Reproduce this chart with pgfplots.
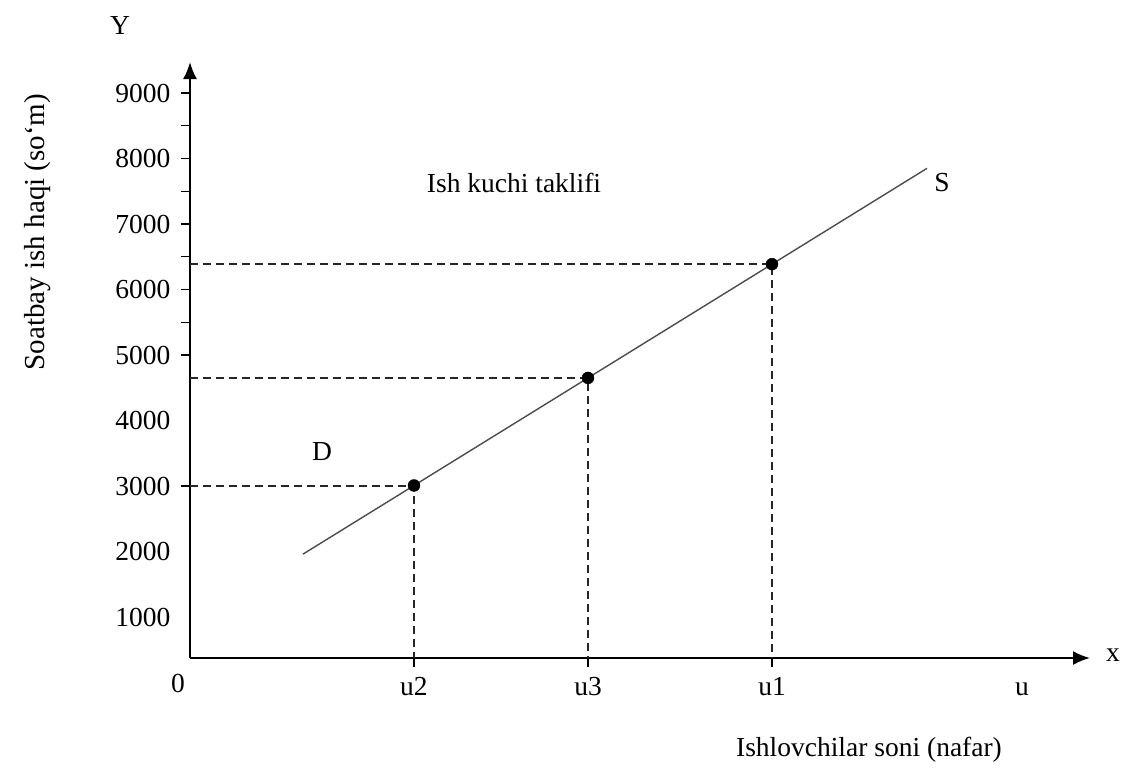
\documentclass[border=0pt]{standalone}
\usepackage{pgfplots}
\pgfplotsset{compat=1.18}
\usepackage{fontspec}
\setmainfont{Liberation Serif}
\usetikzlibrary{arrows.meta}
\begin{document}
\begin{tikzpicture}[font=\fontsize{27.5}{33}\selectfont]
\begin{axis}[
  x=1pt, y=0.0655pt,
  xmin=0, xmax=900, ymin=374, ymax=9473,
  axis x line*=bottom, axis y line*=left,
  axis line style={line width=2pt, -{Latex[length=17pt,width=14pt]}},
  clip=false,
  ytick={1000,2000,...,9000},
  major tick length=0pt,
  yticklabel style={xshift=-16pt},
  xtick={224,398,582,832}, xticklabels={u2,u3,u1,u},
  xticklabel style={yshift=-16pt, text height=18pt},
  extra y ticks={3000,5000,5500,6000,6500,7000,7500,8000,8500,9000},
  extra y tick labels={},
  extra x ticks={224,398,582}, extra x tick labels={},
  extra tick style={major tick length=9pt, tick align=outside, tick style={line width=1.2pt, black}},
  /pgf/number format/assume math mode=true,
  /pgf/number format/1000 sep={},
]
\addplot[black!70, line width=1.4pt] coordinates {(113,1960) (737,7850)};
\addplot[black!85, line width=1.6pt, dash pattern=on 8pt off 5pt] coordinates {(0,3000) (224,3000) (224,374)};
\addplot[black!85, line width=1.6pt, dash pattern=on 8pt off 5pt] coordinates {(0,4650) (398,4650) (398,374)};
\addplot[black!85, line width=1.6pt, dash pattern=on 8pt off 5pt] coordinates {(0,6387) (582,6387) (582,374)};
\addplot[only marks, mark=*, mark size=6pt, black] coordinates {(224,3008) (398,4650) (582,6387)};
\node at (axis cs:-70,10038) {Y};
\node[rotate=90] at (axis cs:-152,6878) {\fontsize{29}{34}\selectfont Soatbay ish haqi (so‘m)};
\node at (axis cs:324,7626) {Ish kuchi taklifi};
\node at (axis cs:752,7626) {S};
\node at (axis cs:132,3519) {D};
\node at (axis cs:923,420) {x};
\node at (axis cs:-12,-8) {0};
\node at (axis cs:679,-1031) {Ishlovchilar soni (nafar)};
\path (axis cs:-190,-1427) rectangle (axis cs:937,10420);
\end{axis}
\end{tikzpicture}
\end{document}
